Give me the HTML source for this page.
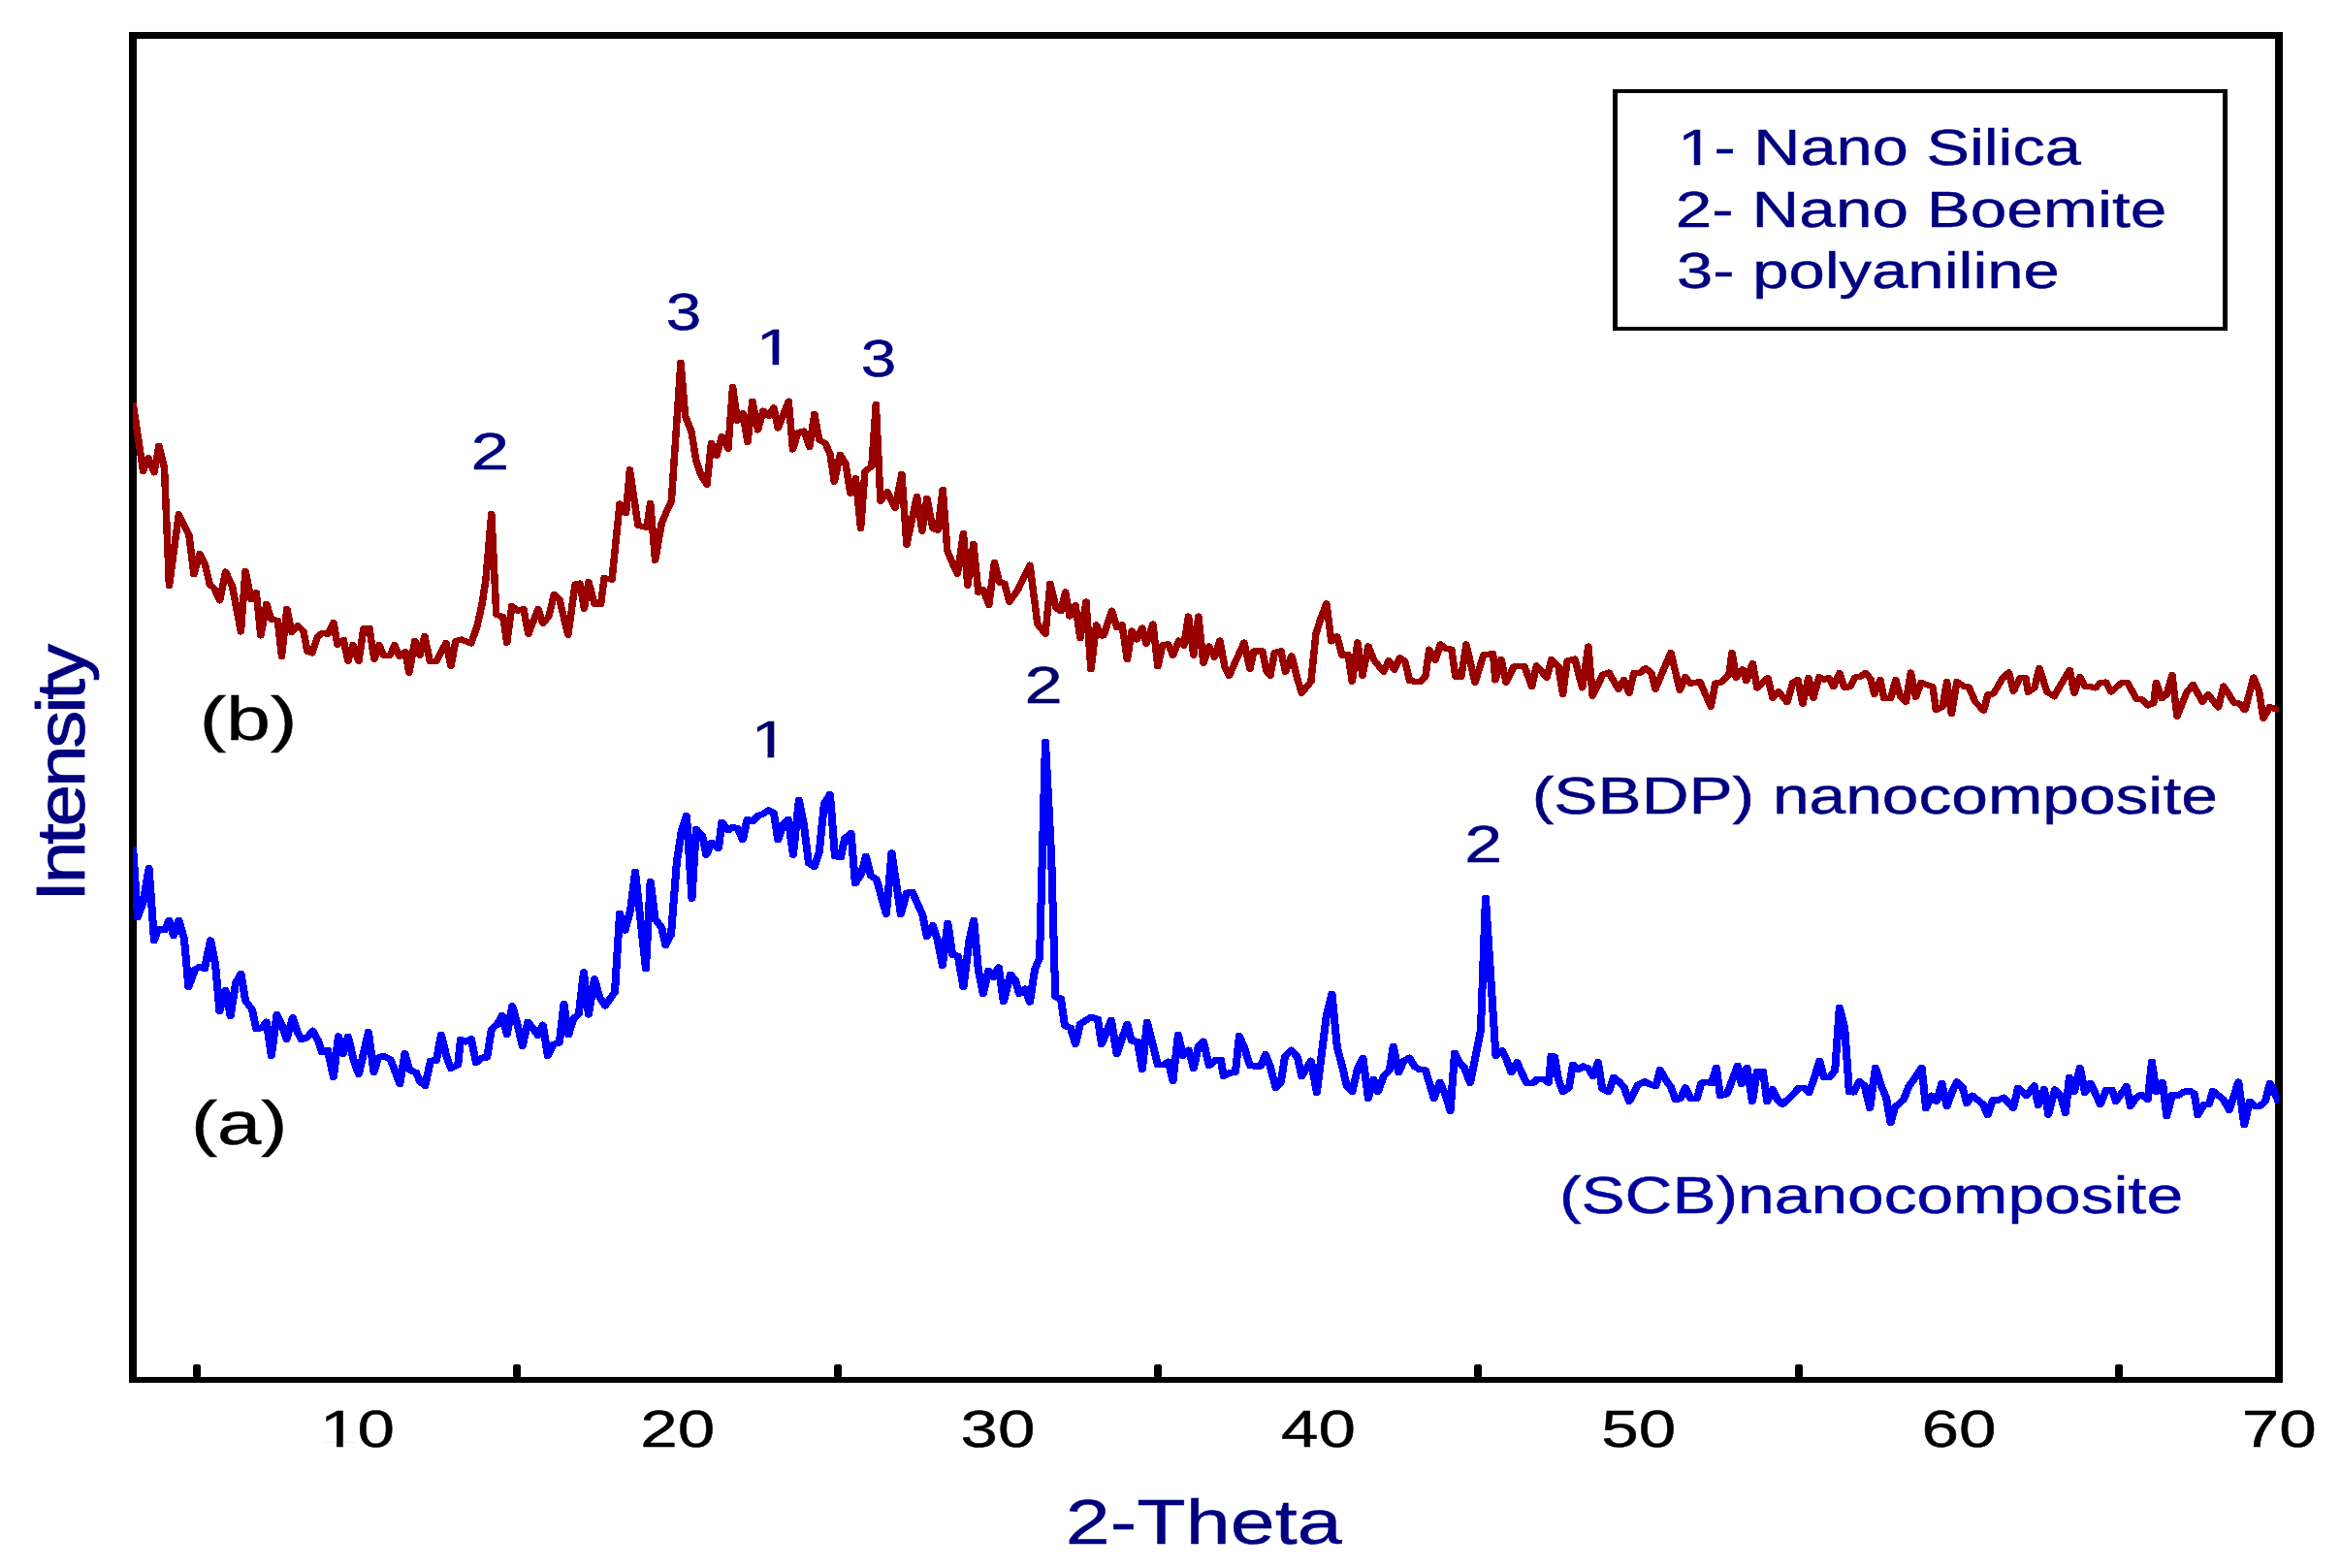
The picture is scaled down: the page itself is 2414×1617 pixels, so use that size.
<!DOCTYPE html>
<html><head><meta charset="utf-8"><title>XRD pattern</title>
<style>
html,body{margin:0;padding:0;background:#fff;}
svg{display:block;}
text{font-family:"Liberation Sans", Arial, sans-serif;}
</style></head>
<body>
<svg width="2414" height="1617" viewBox="0 0 2414 1617">
<rect x="0" y="0" width="2414" height="1617" fill="#fff"/>
<g fill="#000" shape-rendering="crispEdges">
<rect x="133" y="33" width="8" height="1393"/>
<rect x="2346" y="33" width="8" height="1393"/>
<rect x="133" y="33" width="2221" height="7"/>
<rect x="133" y="1420" width="2221" height="6"/>
</g>
<g fill="#000">
<rect x="199" y="1407" width="8" height="14" rx="2.2" ry="2.2"/>
<rect x="529" y="1407" width="8" height="14" rx="2.2" ry="2.2"/>
<rect x="860" y="1407" width="8" height="14" rx="2.2" ry="2.2"/>
<rect x="1190" y="1407" width="8" height="14" rx="2.2" ry="2.2"/>
<rect x="1520" y="1407" width="8" height="14" rx="2.2" ry="2.2"/>
<rect x="1851" y="1407" width="8" height="14" rx="2.2" ry="2.2"/>
<rect x="2181" y="1407" width="8" height="14" rx="2.2" ry="2.2"/>
</g>
<defs><clipPath id="plotclip"><rect x="137" y="36.5" width="2213" height="1386.5"/></clipPath></defs>
<g clip-path="url(#plotclip)">
<polyline transform="scale(1.22,1)" points="112.3,415.0 121.0,486.0 125.4,472.0 130.3,487.4 134.4,459.6 138.9,482.0 143.0,604.3 151.1,530.3 159.8,551.9 163.9,592.3 168.9,570.9 173.0,580.9 177.4,602.9 181.1,606.9 185.7,619.5 190.7,589.5 196.4,604.9 203.6,651.5 207.4,588.9 212.2,618.3 216.6,610.9 220.4,655.5 225.3,622.9 229.4,638.9 234.7,639.9 238.1,676.9 242.5,627.9 246.6,652.3 251.6,644.9 256.5,650.9 259.8,671.9 263.9,673.5 268.0,657.9 272.0,652.9 277.0,653.9 281.9,641.9 285.2,664.9 290.4,659.9 294.2,681.9 298.3,664.9 303.2,681.9 307.3,648.3 312.2,647.9 316.3,679.9 320.4,664.9 324.2,675.9 329.8,675.9 333.5,664.9 337.6,676.9 342.5,671.9 345.8,693.9 350.7,660.9 354.8,675.9 358.9,655.9 363.4,681.9 368.8,681.9 377.0,662.9 381.1,686.9 385.2,660.9 390.1,659.5 398.3,663.5 403.2,645.9 407.3,623.9 410.6,597.9 415.4,529.9 419.5,633.9 425.2,635.9 428.5,662.9 432.6,624.9 437.5,629.9 442.5,627.9 446.6,653.9 454.8,627.9 458.9,642.9 463.8,635.9 468.4,612.9 472.8,617.9 480.2,654.9 486.1,602.3 490.2,601.5 493.8,627.9 497.5,599.9 502.5,622.9 507.9,622.9 510.7,595.9 517.2,597.9 523.8,519.5 529.2,528.9 532.3,484.3 539.3,541.9 546.7,543.9 549.7,518.9 553.8,577.9 559.2,539.9 563.9,525.9 567.5,516.9 575.4,373.6 579.2,429.0 584.4,445.0 588.4,475.0 592.5,489.9 597.5,499.9 601.2,457.0 605.7,470.0 610.1,450.0 615.5,463.0 619.3,399.0 623.2,434.0 627.8,426.0 631.9,456.0 636.0,413.6 640.6,443.6 645.0,423.6 649.9,429.0 654.0,420.4 657.6,441.6 666.6,413.6 670.1,463.6 674.5,446.0 679.4,444.4 684.3,461.0 688.4,427.0 692.5,454.0 697.5,457.0 701.6,468.0 705.2,496.9 710.1,468.6 714.7,477.9 718.8,508.9 723.2,492.9 727.5,544.9 731.1,485.9 736.8,480.9 740.4,417.0 744.2,516.9 749.9,506.9 756.5,523.9 762.2,488.9 766.3,561.9 775.0,511.9 779.4,547.9 783.5,513.9 788.4,544.9 792.5,546.9 796.9,504.9 800.7,567.9 804.8,579.9 809.3,591.9 814.3,549.9 817.9,603.9 822.8,560.9 826.9,610.9 831.0,607.9 835.9,623.9 840.5,579.9 844.9,600.9 849.0,601.5 853.1,620.9 860.5,607.9 870.5,582.6 877.0,643.9 883.6,653.9 887.7,601.6 892.6,626.9 896.7,630.3 900.5,610.3 904.1,635.5 909.0,624.3 913.1,658.3 918.0,620.5 922.1,690.3 926.7,644.3 930.3,655.5 932.8,655.5 939.8,629.5 943.9,646.9 948.4,644.3 952.8,680.3 956.6,650.5 960.7,659.5 965.5,647.5 968.8,663.9 974.5,643.5 978.6,687.3 982.7,664.9 987.6,664.3 991.4,675.9 996.3,660.5 1000.7,665.9 1004.5,635.5 1008.9,675.9 1013.0,635.5 1017.1,683.9 1022.0,666.3 1026.5,677.9 1031.1,660.5 1035.2,687.9 1038.9,696.9 1051.6,662.5 1056.5,689.9 1059.8,671.5 1067.1,671.5 1070.4,691.9 1073.7,696.9 1077.3,672.9 1082.7,671.3 1086.5,692.9 1091.7,676.3 1096.6,699.9 1100.2,714.9 1108.1,702.9 1112.2,653.9 1116.3,637.9 1121.2,622.3 1125.3,661.5 1130.2,656.3 1134.3,675.9 1139.3,674.9 1142.9,702.9 1147.5,662.3 1151.6,696.9 1156.5,666.3 1161.4,680.9 1169.5,692.9 1173.9,680.9 1178.5,690.9 1183.1,678.3 1187.5,681.9 1191.6,702.3 1200.7,702.9 1204.8,697.9 1208.0,669.5 1213.0,680.9 1217.5,664.3 1222.0,668.9 1226.9,669.5 1230.2,697.9 1235.1,697.9 1239.3,664.3 1246.7,703.9 1254.1,674.9 1262.0,674.3 1263.9,701.5 1268.9,679.9 1273.0,703.9 1279.5,687.5 1288.5,686.9 1294.8,708.3 1298.7,686.3 1307.4,698.9 1311.5,679.9 1317.2,687.5 1321.0,716.3 1324.6,681.5 1331.1,679.5 1337.4,709.5 1342.5,666.5 1346.1,717.9 1354.8,695.5 1359.8,693.5 1368.0,710.9 1372.5,700.9 1377.0,714.9 1381.1,693.9 1386.0,694.3 1390.9,688.9 1395.8,693.9 1399.1,710.9 1412.2,672.9 1419.9,711.9 1424.5,697.9 1428.6,704.9 1436.8,702.9 1446.1,728.9 1449.9,704.3 1454.8,703.5 1461.4,695.9 1463.9,672.9 1467.5,698.9 1472.9,690.3 1476.1,702.3 1481.4,683.9 1485.2,709.5 1494.2,698.9 1498.3,719.9 1503.2,712.9 1510.6,724.3 1515.5,703.5 1519.6,700.9 1523.7,725.9 1528.6,698.9 1532.7,719.9 1537.6,697.9 1541.7,700.9 1545.7,698.9 1549.8,708.3 1554.8,693.9 1558.9,708.9 1563.8,708.3 1567.9,698.3 1572.8,697.5 1576.6,693.9 1581.0,699.9 1584.3,716.3 1589.2,700.9 1592.5,720.3 1598.2,719.9 1602.3,700.9 1606.4,718.9 1611.0,723.9 1615.1,693.5 1619.3,718.9 1623.8,703.9 1633.6,708.3 1636.4,732.3 1641.8,728.9 1645.6,702.9 1649.5,736.3 1654.1,702.9 1660.7,708.3 1663.9,708.3 1669.7,723.9 1676.7,732.9 1680.3,715.9 1684.9,715.5 1693.4,697.9 1698.0,693.5 1701.9,712.9 1707.3,698.9 1712.2,698.9 1714.3,713.9 1719.6,709.5 1723.7,688.9 1730.2,713.5 1736.3,718.3 1740.9,707.9 1749.4,690.9 1753.2,714.9 1758.1,697.9 1762.2,707.9 1767.1,708.3 1771.2,709.5 1775.3,703.9 1780.2,703.5 1784.3,713.5 1793.4,703.9 1798.3,703.9 1805.7,720.9 1810.6,721.5 1815.5,727.5 1820.4,724.9 1822.5,703.9 1827.0,720.3 1831.1,716.9 1836.0,695.9 1840.1,738.9 1848.3,713.9 1853.7,705.9 1861.4,723.9 1866.3,715.9 1875.0,729.5 1879.4,707.5 1888.4,724.9 1892.5,725.5 1897.5,732.3 1904.8,698.5 1909.3,711.9 1913.0,740.9 1918.7,728.9 1926.2,732.9" fill="none" stroke="#990000" stroke-width="4.75" stroke-linejoin="round" stroke-linecap="butt"/>
<polyline transform="scale(1.22,1)" points="112.3,415.0 121.0,486.0 125.4,472.0 130.3,487.4 134.4,459.6 138.9,482.0 143.0,604.3 151.1,530.3 159.8,551.9 163.9,592.3 168.9,570.9 173.0,580.9 177.4,602.9 181.1,606.9 185.7,619.5 190.7,589.5 196.4,604.9 203.6,651.5 207.4,588.9 212.2,618.3 216.6,610.9 220.4,655.5 225.3,622.9 229.4,638.9 234.7,639.9 238.1,676.9 242.5,627.9 246.6,652.3 251.6,644.9 256.5,650.9 259.8,671.9 263.9,673.5 268.0,657.9 272.0,652.9 277.0,653.9 281.9,641.9 285.2,664.9 290.4,659.9 294.2,681.9 298.3,664.9 303.2,681.9 307.3,648.3 312.2,647.9 316.3,679.9 320.4,664.9 324.2,675.9 329.8,675.9 333.5,664.9 337.6,676.9 342.5,671.9 345.8,693.9 350.7,660.9 354.8,675.9 358.9,655.9 363.4,681.9 368.8,681.9 377.0,662.9 381.1,686.9 385.2,660.9 390.1,659.5 398.3,663.5 403.2,645.9 407.3,623.9 410.6,597.9 415.4,529.9 419.5,633.9 425.2,635.9 428.5,662.9 432.6,624.9 437.5,629.9 442.5,627.9 446.6,653.9 454.8,627.9 458.9,642.9 463.8,635.9 468.4,612.9 472.8,617.9 480.2,654.9 486.1,602.3 490.2,601.5 493.8,627.9 497.5,599.9 502.5,622.9 507.9,622.9 510.7,595.9 517.2,597.9 523.8,519.5 529.2,528.9 532.3,484.3 539.3,541.9 546.7,543.9 549.7,518.9 553.8,577.9 559.2,539.9 563.9,525.9 567.5,516.9 575.4,373.6 579.2,429.0 584.4,445.0 588.4,475.0 592.5,489.9 597.5,499.9 601.2,457.0 605.7,470.0 610.1,450.0 615.5,463.0 619.3,399.0 623.2,434.0 627.8,426.0 631.9,456.0 636.0,413.6 640.6,443.6 645.0,423.6 649.9,429.0 654.0,420.4 657.6,441.6 666.6,413.6 670.1,463.6 674.5,446.0 679.4,444.4 684.3,461.0 688.4,427.0 692.5,454.0 697.5,457.0 701.6,468.0 705.2,496.9 710.1,468.6 714.7,477.9 718.8,508.9 723.2,492.9 727.5,544.9 731.1,485.9 736.8,480.9 740.4,417.0 744.2,516.9 749.9,506.9 756.5,523.9 762.2,488.9 766.3,561.9 775.0,511.9 779.4,547.9 783.5,513.9 788.4,544.9 792.5,546.9 796.9,504.9 800.7,567.9 804.8,579.9 809.3,591.9 814.3,549.9 817.9,603.9 822.8,560.9 826.9,610.9 831.0,607.9 835.9,623.9 840.5,579.9 844.9,600.9 849.0,601.5 853.1,620.9 860.5,607.9 870.5,582.6 877.0,643.9 883.6,653.9 887.7,601.6 892.6,626.9 896.7,630.3 900.5,610.3 904.1,635.5 909.0,624.3 913.1,658.3 918.0,620.5 922.1,690.3 926.7,644.3 930.3,655.5 932.8,655.5 939.8,629.5 943.9,646.9 948.4,644.3 952.8,680.3 956.6,650.5 960.7,659.5 965.5,647.5 968.8,663.9 974.5,643.5 978.6,687.3 982.7,664.9 987.6,664.3 991.4,675.9 996.3,660.5 1000.7,665.9 1004.5,635.5 1008.9,675.9 1013.0,635.5 1017.1,683.9 1022.0,666.3 1026.5,677.9 1031.1,660.5 1035.2,687.9 1038.9,696.9 1051.6,662.5 1056.5,689.9 1059.8,671.5 1067.1,671.5 1070.4,691.9 1073.7,696.9 1077.3,672.9 1082.7,671.3 1086.5,692.9 1091.7,676.3 1096.6,699.9 1100.2,714.9 1108.1,702.9 1112.2,653.9 1116.3,637.9 1121.2,622.3 1125.3,661.5 1130.2,656.3 1134.3,675.9 1139.3,674.9 1142.9,702.9 1147.5,662.3 1151.6,696.9 1156.5,666.3 1161.4,680.9 1169.5,692.9 1173.9,680.9 1178.5,690.9 1183.1,678.3 1187.5,681.9 1191.6,702.3 1200.7,702.9 1204.8,697.9 1208.0,669.5 1213.0,680.9 1217.5,664.3 1222.0,668.9 1226.9,669.5 1230.2,697.9 1235.1,697.9 1239.3,664.3 1246.7,703.9 1254.1,674.9 1262.0,674.3 1263.9,701.5 1268.9,679.9 1273.0,703.9 1279.5,687.5 1288.5,686.9 1294.8,708.3 1298.7,686.3 1307.4,698.9 1311.5,679.9 1317.2,687.5 1321.0,716.3 1324.6,681.5 1331.1,679.5 1337.4,709.5 1342.5,666.5 1346.1,717.9 1354.8,695.5 1359.8,693.5 1368.0,710.9 1372.5,700.9 1377.0,714.9 1381.1,693.9 1386.0,694.3 1390.9,688.9 1395.8,693.9 1399.1,710.9 1412.2,672.9 1419.9,711.9 1424.5,697.9 1428.6,704.9 1436.8,702.9 1446.1,728.9 1449.9,704.3 1454.8,703.5 1461.4,695.9 1463.9,672.9 1467.5,698.9 1472.9,690.3 1476.1,702.3 1481.4,683.9 1485.2,709.5 1494.2,698.9 1498.3,719.9 1503.2,712.9 1510.6,724.3 1515.5,703.5 1519.6,700.9 1523.7,725.9 1528.6,698.9 1532.7,719.9 1537.6,697.9 1541.7,700.9 1545.7,698.9 1549.8,708.3 1554.8,693.9 1558.9,708.9 1563.8,708.3 1567.9,698.3 1572.8,697.5 1576.6,693.9 1581.0,699.9 1584.3,716.3 1589.2,700.9 1592.5,720.3 1598.2,719.9 1602.3,700.9 1606.4,718.9 1611.0,723.9 1615.1,693.5 1619.3,718.9 1623.8,703.9 1633.6,708.3 1636.4,732.3 1641.8,728.9 1645.6,702.9 1649.5,736.3 1654.1,702.9 1660.7,708.3 1663.9,708.3 1669.7,723.9 1676.7,732.9 1680.3,715.9 1684.9,715.5 1693.4,697.9 1698.0,693.5 1701.9,712.9 1707.3,698.9 1712.2,698.9 1714.3,713.9 1719.6,709.5 1723.7,688.9 1730.2,713.5 1736.3,718.3 1740.9,707.9 1749.4,690.9 1753.2,714.9 1758.1,697.9 1762.2,707.9 1767.1,708.3 1771.2,709.5 1775.3,703.9 1780.2,703.5 1784.3,713.5 1793.4,703.9 1798.3,703.9 1805.7,720.9 1810.6,721.5 1815.5,727.5 1820.4,724.9 1822.5,703.9 1827.0,720.3 1831.1,716.9 1836.0,695.9 1840.1,738.9 1848.3,713.9 1853.7,705.9 1861.4,723.9 1866.3,715.9 1875.0,729.5 1879.4,707.5 1888.4,724.9 1892.5,725.5 1897.5,732.3 1904.8,698.5 1909.3,711.9 1913.0,740.9 1918.7,728.9 1926.2,732.9" fill="none" stroke="#990000" stroke-width="6.15" stroke-linejoin="round" stroke-linecap="butt" shape-rendering="crispEdges"/>
<polyline transform="scale(1.22,1)" points="112.3,873.0 116.4,946.0 121.0,930.0 125.9,895.4 130.3,969.9 133.6,958.0 139.3,959.0 143.0,949.0 146.7,965.0 151.1,949.0 155.7,967.9 159.3,1017.9 164.8,999.9 168.9,996.9 173.0,998.9 177.9,969.5 182.0,993.9 185.6,1042.9 190.5,1020.9 194.8,1047.9 199.2,1013.9 203.6,1003.9 207.4,1031.9 213.0,1040.9 216.6,1060.9 221.2,1059.9 225.3,1053.9 229.4,1088.9 234.0,1046.3 238.4,1056.9 242.2,1071.9 247.5,1049.3 251.6,1064.9 254.8,1071.9 259.8,1069.9 264.2,1062.9 268.8,1072.9 272.0,1084.9 277.0,1082.9 281.9,1110.9 286.0,1068.5 290.1,1086.9 294.2,1068.9 299.1,1093.9 303.2,1107.9 311.4,1064.3 316.0,1105.9 319.6,1090.9 324.2,1088.9 330.2,1092.9 338.0,1117.9 342.2,1086.3 346.1,1103.5 351.6,1105.9 354.8,1114.9 359.3,1119.9 363.9,1093.9 368.8,1093.5 372.9,1066.9 377.0,1087.9 381.1,1101.9 387.1,1097.9 389.3,1071.9 393.4,1074.3 398.3,1071.5 402.4,1095.9 407.3,1090.9 411.7,1090.3 415.4,1061.5 420.3,1056.3 424.4,1047.3 428.5,1066.9 433.0,1037.5 437.5,1056.9 441.6,1078.9 446.1,1053.9 450.7,1060.9 454.8,1067.9 458.9,1056.9 463.0,1088.9 467.9,1076.9 472.8,1075.5 476.6,1035.3 480.5,1066.9 485.1,1049.9 489.2,1045.9 493.4,1002.5 497.5,1046.3 502.5,1009.3 506.6,1027.9 511.5,1037.3 519.7,1022.9 523.8,941.9 528.2,959.5 532.8,938.9 536.9,899.0 545.9,998.9 549.7,909.0 553.8,947.9 559.3,956.9 562.6,974.9 567.2,963.9 572.1,888.0 576.2,856.0 580.3,841.0 584.8,926.5 588.4,855.0 593.7,862.0 597.0,881.6 601.6,869.0 607.3,875.0 610.1,848.0 615.5,856.0 619.3,853.0 623.7,854.4 627.8,866.0 631.6,845.0 636.3,847.0 640.9,841.0 645.0,839.4 649.4,835.6 654.0,838.0 657.6,866.0 662.2,850.0 666.3,845.0 670.4,881.6 675.3,825.0 679.4,850.0 683.5,890.0 688.4,894.0 692.5,878.0 696.6,829.0 701.6,819.0 705.7,883.0 710.6,884.0 713.9,865.0 719.3,859.0 722.9,911.0 727.8,902.0 731.9,883.0 736.0,903.0 740.9,907.0 749.1,942.9 753.7,879.6 761.4,942.9 766.3,920.9 771.2,919.9 779.9,943.9 783.5,965.9 788.4,954.3 792.5,969.9 796.6,995.9 801.1,951.9 805.1,984.9 809.7,985.9 814.3,1017.9 819.2,969.9 823.1,948.9 826.9,999.9 831.0,1024.9 835.6,1000.9 840.0,1007.9 844.1,997.5 848.2,1032.9 854.1,1004.9 858.2,1010.9 861.5,1024.9 866.4,1019.9 870.5,1033.5 874.6,999.9 878.7,987.9 883.6,765.0 888.7,885.0 892.0,1027.9 896.7,1029.9 900.0,1057.9 904.9,1059.9 909.0,1076.9 913.1,1055.9 922.1,1048.9 927.9,1050.9 931.1,1076.9 939.3,1051.9 943.9,1086.9 952.8,1055.9 956.5,1073.5 961.4,1073.9 965.5,1102.9 969.6,1053.9 978.6,1097.9 983.5,1097.9 987.6,1094.9 991.4,1114.9 995.8,1066.9 999.9,1088.9 1004.8,1082.9 1008.9,1101.9 1013.0,1078.9 1017.1,1073.9 1022.0,1098.9 1027.8,1092.9 1031.9,1092.9 1034.3,1109.9 1039.3,1106.5 1044.2,1105.9 1047.5,1068.3 1051.6,1079.9 1056.5,1098.9 1061.4,1099.5 1065.5,1099.5 1069.6,1087.3 1073.7,1099.9 1078.3,1121.9 1082.7,1115.9 1086.0,1089.9 1091.4,1082.9 1096.6,1089.9 1100.2,1109.9 1108.1,1093.9 1113.0,1126.9 1121.2,1046.9 1125.8,1024.9 1130.2,1079.9 1134.3,1098.9 1138.4,1119.9 1142.9,1125.9 1147.5,1101.9 1152.0,1090.9 1156.5,1132.9 1160.8,1112.9 1164.6,1125.9 1169.5,1109.9 1174.4,1103.9 1177.7,1078.9 1182.1,1105.9 1186.7,1093.9 1191.3,1090.9 1195.7,1099.9 1199.8,1102.9 1204.8,1103.5 1212.1,1132.9 1217.0,1115.9 1222.0,1129.9 1225.9,1145.9 1229.5,1085.9 1233.6,1095.9 1237.7,1100.9 1242.6,1116.9 1247.5,1086.9 1251.6,1061.9 1255.7,926.0 1264.3,1088.9 1269.7,1083.5 1273.4,1092.9 1277.4,1105.9 1282.3,1095.5 1286.1,1105.9 1290.2,1116.9 1295.9,1116.9 1299.2,1112.9 1304.9,1112.9 1309.0,1116.9 1311.1,1088.9 1313.9,1089.5 1317.2,1112.9 1321.0,1125.9 1326.1,1121.9 1329.4,1097.9 1334.3,1102.9 1338.0,1099.5 1342.5,1101.9 1346.6,1109.9 1350.7,1095.3 1354.3,1122.9 1359.8,1125.9 1363.9,1110.9 1368.8,1115.9 1372.9,1121.9 1377.0,1135.9 1384.3,1118.9 1390.1,1115.5 1395.0,1118.3 1399.6,1119.9 1403.2,1103.3 1408.1,1113.9 1412.2,1120.9 1416.3,1133.9 1420.4,1132.9 1424.5,1121.5 1429.1,1132.9 1434.3,1132.9 1438.0,1116.9 1442.5,1115.9 1446.6,1116.9 1450.7,1100.9 1454.0,1129.9 1459.8,1127.9 1468.8,1098.9 1472.0,1117.9 1476.6,1100.9 1481.1,1135.9 1485.2,1104.9 1490.1,1104.9 1493.7,1135.9 1498.3,1123.3 1502.4,1133.9 1506.5,1138.9 1516.3,1127.9 1520.4,1121.9 1525.3,1121.9 1529.0,1126.9 1533.4,1111.9 1537.9,1093.9 1541.6,1110.9 1546.6,1110.9 1551.0,1103.9 1554.8,1038.9 1559.2,1059.9 1563.0,1125.9 1567.0,1126.3 1571.6,1114.9 1576.1,1119.9 1580.5,1142.9 1585.2,1101.0 1590.2,1120.0 1594.3,1131.9 1598.0,1157.9 1601.6,1141.9 1609.0,1133.9 1613.1,1121.0 1618.9,1111.0 1624.3,1101.0 1627.9,1142.9 1632.8,1129.9 1636.9,1135.9 1641.3,1117.0 1645.6,1140.9 1650.0,1125.9 1654.1,1115.6 1659.0,1122.0 1662.3,1137.9 1667.2,1129.9 1676.2,1138.9 1680.0,1149.9 1684.4,1134.3 1689.3,1134.3 1693.7,1131.9 1701.6,1142.9 1705.7,1122.0 1713.0,1129.9 1719.3,1119.6 1722.9,1139.9 1727.8,1123.0 1731.4,1149.5 1736.8,1123.6 1741.7,1129.9 1745.8,1147.9 1749.1,1111.0 1753.2,1125.9 1758.1,1101.0 1762.2,1126.9 1767.1,1117.0 1775.3,1138.9 1780.2,1124.0 1785.2,1124.0 1788.4,1135.9 1797.5,1120.0 1800.7,1140.9 1805.7,1131.9 1809.8,1128.9 1815.5,1133.9 1818.8,1095.0 1822.5,1125.9 1827.8,1116.0 1831.4,1150.9 1836.0,1128.9 1840.9,1129.9 1845.8,1125.9 1850.7,1125.0 1854.8,1127.9 1857.6,1149.9 1863.0,1138.9 1867.1,1138.9 1870.4,1125.0 1879.4,1133.9 1884.3,1144.9 1892.0,1115.6 1896.9,1159.9 1901.5,1135.9 1905.6,1140.9 1909.7,1140.9 1914.6,1135.9 1918.7,1117.0 1926.2,1136.9" fill="none" stroke="#0000ff" stroke-width="5.20" stroke-linejoin="round" stroke-linecap="butt"/>
<polyline transform="scale(1.22,1)" points="112.3,873.0 116.4,946.0 121.0,930.0 125.9,895.4 130.3,969.9 133.6,958.0 139.3,959.0 143.0,949.0 146.7,965.0 151.1,949.0 155.7,967.9 159.3,1017.9 164.8,999.9 168.9,996.9 173.0,998.9 177.9,969.5 182.0,993.9 185.6,1042.9 190.5,1020.9 194.8,1047.9 199.2,1013.9 203.6,1003.9 207.4,1031.9 213.0,1040.9 216.6,1060.9 221.2,1059.9 225.3,1053.9 229.4,1088.9 234.0,1046.3 238.4,1056.9 242.2,1071.9 247.5,1049.3 251.6,1064.9 254.8,1071.9 259.8,1069.9 264.2,1062.9 268.8,1072.9 272.0,1084.9 277.0,1082.9 281.9,1110.9 286.0,1068.5 290.1,1086.9 294.2,1068.9 299.1,1093.9 303.2,1107.9 311.4,1064.3 316.0,1105.9 319.6,1090.9 324.2,1088.9 330.2,1092.9 338.0,1117.9 342.2,1086.3 346.1,1103.5 351.6,1105.9 354.8,1114.9 359.3,1119.9 363.9,1093.9 368.8,1093.5 372.9,1066.9 377.0,1087.9 381.1,1101.9 387.1,1097.9 389.3,1071.9 393.4,1074.3 398.3,1071.5 402.4,1095.9 407.3,1090.9 411.7,1090.3 415.4,1061.5 420.3,1056.3 424.4,1047.3 428.5,1066.9 433.0,1037.5 437.5,1056.9 441.6,1078.9 446.1,1053.9 450.7,1060.9 454.8,1067.9 458.9,1056.9 463.0,1088.9 467.9,1076.9 472.8,1075.5 476.6,1035.3 480.5,1066.9 485.1,1049.9 489.2,1045.9 493.4,1002.5 497.5,1046.3 502.5,1009.3 506.6,1027.9 511.5,1037.3 519.7,1022.9 523.8,941.9 528.2,959.5 532.8,938.9 536.9,899.0 545.9,998.9 549.7,909.0 553.8,947.9 559.3,956.9 562.6,974.9 567.2,963.9 572.1,888.0 576.2,856.0 580.3,841.0 584.8,926.5 588.4,855.0 593.7,862.0 597.0,881.6 601.6,869.0 607.3,875.0 610.1,848.0 615.5,856.0 619.3,853.0 623.7,854.4 627.8,866.0 631.6,845.0 636.3,847.0 640.9,841.0 645.0,839.4 649.4,835.6 654.0,838.0 657.6,866.0 662.2,850.0 666.3,845.0 670.4,881.6 675.3,825.0 679.4,850.0 683.5,890.0 688.4,894.0 692.5,878.0 696.6,829.0 701.6,819.0 705.7,883.0 710.6,884.0 713.9,865.0 719.3,859.0 722.9,911.0 727.8,902.0 731.9,883.0 736.0,903.0 740.9,907.0 749.1,942.9 753.7,879.6 761.4,942.9 766.3,920.9 771.2,919.9 779.9,943.9 783.5,965.9 788.4,954.3 792.5,969.9 796.6,995.9 801.1,951.9 805.1,984.9 809.7,985.9 814.3,1017.9 819.2,969.9 823.1,948.9 826.9,999.9 831.0,1024.9 835.6,1000.9 840.0,1007.9 844.1,997.5 848.2,1032.9 854.1,1004.9 858.2,1010.9 861.5,1024.9 866.4,1019.9 870.5,1033.5 874.6,999.9 878.7,987.9 883.6,765.0 888.7,885.0 892.0,1027.9 896.7,1029.9 900.0,1057.9 904.9,1059.9 909.0,1076.9 913.1,1055.9 922.1,1048.9 927.9,1050.9 931.1,1076.9 939.3,1051.9 943.9,1086.9 952.8,1055.9 956.5,1073.5 961.4,1073.9 965.5,1102.9 969.6,1053.9 978.6,1097.9 983.5,1097.9 987.6,1094.9 991.4,1114.9 995.8,1066.9 999.9,1088.9 1004.8,1082.9 1008.9,1101.9 1013.0,1078.9 1017.1,1073.9 1022.0,1098.9 1027.8,1092.9 1031.9,1092.9 1034.3,1109.9 1039.3,1106.5 1044.2,1105.9 1047.5,1068.3 1051.6,1079.9 1056.5,1098.9 1061.4,1099.5 1065.5,1099.5 1069.6,1087.3 1073.7,1099.9 1078.3,1121.9 1082.7,1115.9 1086.0,1089.9 1091.4,1082.9 1096.6,1089.9 1100.2,1109.9 1108.1,1093.9 1113.0,1126.9 1121.2,1046.9 1125.8,1024.9 1130.2,1079.9 1134.3,1098.9 1138.4,1119.9 1142.9,1125.9 1147.5,1101.9 1152.0,1090.9 1156.5,1132.9 1160.8,1112.9 1164.6,1125.9 1169.5,1109.9 1174.4,1103.9 1177.7,1078.9 1182.1,1105.9 1186.7,1093.9 1191.3,1090.9 1195.7,1099.9 1199.8,1102.9 1204.8,1103.5 1212.1,1132.9 1217.0,1115.9 1222.0,1129.9 1225.9,1145.9 1229.5,1085.9 1233.6,1095.9 1237.7,1100.9 1242.6,1116.9 1247.5,1086.9 1251.6,1061.9 1255.7,926.0 1264.3,1088.9 1269.7,1083.5 1273.4,1092.9 1277.4,1105.9 1282.3,1095.5 1286.1,1105.9 1290.2,1116.9 1295.9,1116.9 1299.2,1112.9 1304.9,1112.9 1309.0,1116.9 1311.1,1088.9 1313.9,1089.5 1317.2,1112.9 1321.0,1125.9 1326.1,1121.9 1329.4,1097.9 1334.3,1102.9 1338.0,1099.5 1342.5,1101.9 1346.6,1109.9 1350.7,1095.3 1354.3,1122.9 1359.8,1125.9 1363.9,1110.9 1368.8,1115.9 1372.9,1121.9 1377.0,1135.9 1384.3,1118.9 1390.1,1115.5 1395.0,1118.3 1399.6,1119.9 1403.2,1103.3 1408.1,1113.9 1412.2,1120.9 1416.3,1133.9 1420.4,1132.9 1424.5,1121.5 1429.1,1132.9 1434.3,1132.9 1438.0,1116.9 1442.5,1115.9 1446.6,1116.9 1450.7,1100.9 1454.0,1129.9 1459.8,1127.9 1468.8,1098.9 1472.0,1117.9 1476.6,1100.9 1481.1,1135.9 1485.2,1104.9 1490.1,1104.9 1493.7,1135.9 1498.3,1123.3 1502.4,1133.9 1506.5,1138.9 1516.3,1127.9 1520.4,1121.9 1525.3,1121.9 1529.0,1126.9 1533.4,1111.9 1537.9,1093.9 1541.6,1110.9 1546.6,1110.9 1551.0,1103.9 1554.8,1038.9 1559.2,1059.9 1563.0,1125.9 1567.0,1126.3 1571.6,1114.9 1576.1,1119.9 1580.5,1142.9 1585.2,1101.0 1590.2,1120.0 1594.3,1131.9 1598.0,1157.9 1601.6,1141.9 1609.0,1133.9 1613.1,1121.0 1618.9,1111.0 1624.3,1101.0 1627.9,1142.9 1632.8,1129.9 1636.9,1135.9 1641.3,1117.0 1645.6,1140.9 1650.0,1125.9 1654.1,1115.6 1659.0,1122.0 1662.3,1137.9 1667.2,1129.9 1676.2,1138.9 1680.0,1149.9 1684.4,1134.3 1689.3,1134.3 1693.7,1131.9 1701.6,1142.9 1705.7,1122.0 1713.0,1129.9 1719.3,1119.6 1722.9,1139.9 1727.8,1123.0 1731.4,1149.5 1736.8,1123.6 1741.7,1129.9 1745.8,1147.9 1749.1,1111.0 1753.2,1125.9 1758.1,1101.0 1762.2,1126.9 1767.1,1117.0 1775.3,1138.9 1780.2,1124.0 1785.2,1124.0 1788.4,1135.9 1797.5,1120.0 1800.7,1140.9 1805.7,1131.9 1809.8,1128.9 1815.5,1133.9 1818.8,1095.0 1822.5,1125.9 1827.8,1116.0 1831.4,1150.9 1836.0,1128.9 1840.9,1129.9 1845.8,1125.9 1850.7,1125.0 1854.8,1127.9 1857.6,1149.9 1863.0,1138.9 1867.1,1138.9 1870.4,1125.0 1879.4,1133.9 1884.3,1144.9 1892.0,1115.6 1896.9,1159.9 1901.5,1135.9 1905.6,1140.9 1909.7,1140.9 1914.6,1135.9 1918.7,1117.0 1926.2,1136.9" fill="none" stroke="#0000ff" stroke-width="6.6" stroke-linejoin="round" stroke-linecap="butt" shape-rendering="crispEdges"/>
</g>
<g fill="#000" shape-rendering="crispEdges"><rect x="1663" y="92" width="5" height="249"/><rect x="2292" y="92" width="5" height="249"/><rect x="1663" y="92" width="634" height="4"/><rect x="1663" y="337" width="634" height="4"/></g>
<clipPath id="c1_19" clipPathUnits="userSpaceOnUse"><path clip-rule="evenodd" d="M-50,-200H2000V200H-50ZM1.57,-5.05H12.97V1.52H1.57ZM18.01,-5.05H28.87V1.52H18.01Z"/></clipPath>
<text transform="translate(1730.33,170.20) scale(1.2721,1)" font-size="52.50" fill="#000080" stroke="#000080" stroke-width="0.45" clip-path="url(#c1_19)">1- Nano Silica</text>
<text transform="translate(1727.82,233.90) scale(1.3035,1)" font-size="51.79" fill="#000080" stroke="#000080" stroke-width="0.45">2- Nano Boemite</text>
<text transform="translate(1728.99,296.70) scale(1.3118,1)" font-size="51.09" fill="#000080" stroke="#000080" stroke-width="0.45">3- polyaniline</text>
<text transform="translate(1098.87,1592.30) scale(1.2662,1)" font-size="65.27" fill="#000080" stroke="#000080" stroke-width="0.45">2-Theta</text>
<text transform="translate(1579.84,838.80) scale(1.2822,1)" font-size="52.78" fill="#000080" stroke="#000080" stroke-width="0.45">(SBDP) nanocomposite</text>
<text transform="translate(1607.94,1251.00) scale(1.2823,1)" font-size="52.78" fill="#0000a0" stroke="#0000a0" stroke-width="0.45">(SCB)nanocomposite</text>
<text transform="translate(205.87,762.80) scale(1.3049,1)" font-size="63.01" fill="#000" stroke="#000" stroke-width="0.45">(b)</text>
<text transform="translate(196.92,1180.40) scale(1.3076,1)" font-size="62.19" fill="#000" stroke="#000" stroke-width="0.45">(a)</text>
<text transform="translate(485.43,484.00) scale(1.3297,1)" font-size="53.62" fill="#000080" stroke="#000080" stroke-width="0.45">2</text>
<text transform="translate(686.83,340.00) scale(1.2423,1)" font-size="52.90" fill="#000080" stroke="#000080" stroke-width="0.45">3</text>
<clipPath id="c1_30" clipPathUnits="userSpaceOnUse"><path clip-rule="evenodd" d="M-50,-200H2000V200H-50ZM1.58,-5.06H12.99V1.53H1.58ZM18.04,-5.06H28.93V1.53H18.04Z"/></clipPath>
<text transform="translate(779.47,375.70) scale(1.3154,1)" font-size="52.61" fill="#000080" stroke="#000080" stroke-width="0.45" clip-path="url(#c1_30)">1</text>
<text transform="translate(887.83,388.00) scale(1.2355,1)" font-size="53.19" fill="#000080" stroke="#000080" stroke-width="0.45">3</text>
<clipPath id="c1_33" clipPathUnits="userSpaceOnUse"><path clip-rule="evenodd" d="M-50,-200H2000V200H-50ZM1.61,-5.14H13.24V1.54H1.61ZM18.39,-5.14H29.49V1.54H18.39Z"/></clipPath>
<text transform="translate(774.47,781.00) scale(1.2905,1)" font-size="53.62" fill="#00006a" stroke="#00006a" stroke-width="0.45" clip-path="url(#c1_33)">1</text>
<text transform="translate(1056.48,725.40) scale(1.2995,1)" font-size="54.20" fill="#00006a" stroke="#00006a" stroke-width="0.45">2</text>
<text transform="translate(1510.30,888.80) scale(1.3125,1)" font-size="53.33" fill="#000080" stroke="#000080" stroke-width="0.45">2</text>
<clipPath id="c1_37" clipPathUnits="userSpaceOnUse"><path clip-rule="evenodd" d="M-50,-200H2000V200H-50ZM1.62,-5.17H13.35V1.54H1.62ZM18.54,-5.17H29.73V1.54H18.54Z"/></clipPath>
<text transform="translate(330.01,1492.30) scale(1.2801,1)" font-size="54.06" fill="#000" stroke="#000" stroke-width="0.45" clip-path="url(#c1_37)">10</text>
<text transform="translate(660.31,1492.30) scale(1.2801,1)" font-size="54.06" fill="#000" stroke="#000" stroke-width="0.45">20</text>
<text transform="translate(990.61,1492.30) scale(1.2801,1)" font-size="54.06" fill="#000" stroke="#000" stroke-width="0.45">30</text>
<text transform="translate(1320.91,1492.30) scale(1.2801,1)" font-size="54.06" fill="#000" stroke="#000" stroke-width="0.45">40</text>
<text transform="translate(1651.21,1492.30) scale(1.2801,1)" font-size="54.06" fill="#000" stroke="#000" stroke-width="0.45">50</text>
<text transform="translate(1981.51,1492.30) scale(1.2801,1)" font-size="54.06" fill="#000" stroke="#000" stroke-width="0.45">60</text>
<text transform="translate(2311.81,1492.30) scale(1.2801,1)" font-size="54.06" fill="#000" stroke="#000" stroke-width="0.45">70</text>
<text transform="translate(87,929.85) rotate(-90) scale(1.1122,1)" letter-spacing="-2.910" font-size="70.46" fill="#000080" stroke="#000080" stroke-width="0.8">Intensity</text>
</svg>
</body></html>
